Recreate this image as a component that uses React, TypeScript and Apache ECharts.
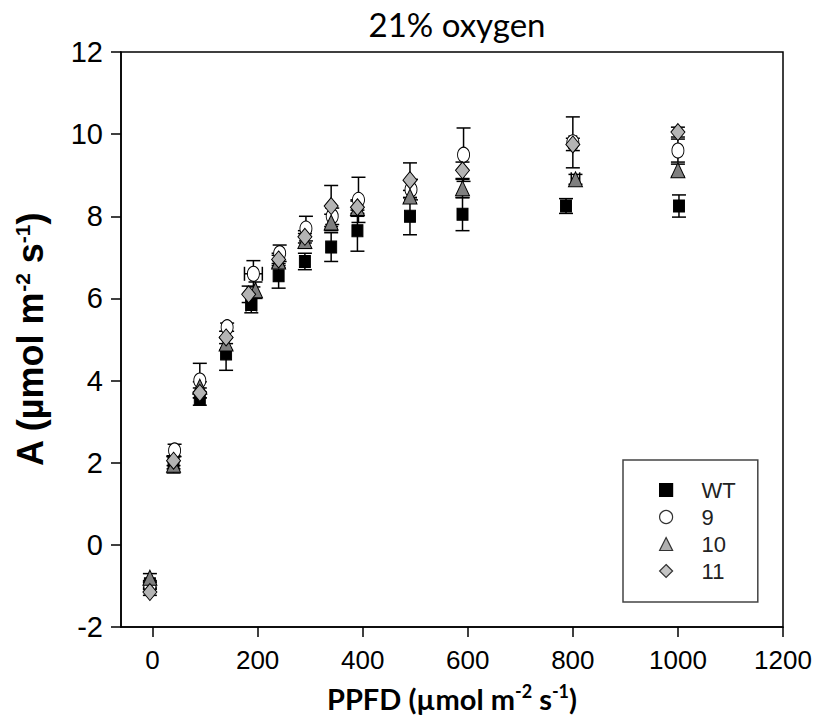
import React, { useEffect, useRef } from "react";
import * as echarts from "echarts";

const SERIES_NAMES = ["WT", "9", "10", "11"];

const WT_X = [-5, 40, 90, 140, 188, 240, 290, 340, 390, 490, 590, 787, 1002];
const WT_Y = [-0.95, 2.0, 3.55, 4.65, 5.85, 6.55, 6.9, 7.25, 7.65, 8.0, 8.05, 8.25, 8.25];
const WT_E = [0.08, 0.15, 0.15, 0.4, 0.2, 0.3, 0.2, 0.35, 0.5, 0.45, 0.4, 0.18, 0.27];
const WT_XE = [0, 0, 0, 0, 10, 0, 0, 0, 0, 0, 0, 0, 0];

const L9_X = [-5, 42, 90, 142, 192, 242, 292, 342, 392, 492, 592, 800, 1000];
const L9_Y = [-1.0, 2.3, 4.0, 5.3, 6.6, 7.1, 7.7, 8.0, 8.4, 8.65, 9.5, 9.8, 9.6];
const L9_E = [0.08, 0.15, 0.42, 0.1, 0.32, 0.2, 0.3, 0.2, 0.55, 0.25, 0.65, 0.62, 0.28];
const L9_XE = [0, 0, 0, 0, 17, 0, 0, 0, 0, 0, 0, 7, 0];

const L10_X = [-5, 40, 90, 140, 196, 240, 290, 340, 390, 490, 590, 805, 1000];
const L10_Y = [-0.8, 1.95, 3.85, 4.9, 6.2, 6.9, 7.4, 7.85, 8.2, 8.48, 8.68, 8.9, 9.12];
const L10_E = [0.1, 0.2, 0.12, 0.15, 0.2, 0.15, 0.18, 0.2, 0.2, 0.15, 0.22, 0.12, 0.15];
const L10_XE = [0, 0, 0, 0, 0, 0, 0, 0, 0, 0, 0, 8, 0];

const L11_X = [-5, 40, 90, 140, 183, 240, 290, 340, 390, 490, 590, 800, 1000];
const L11_Y = [-1.15, 2.05, 3.7, 5.05, 6.1, 6.95, 7.5, 8.25, 8.22, 8.88, 9.12, 9.75, 10.05];
const L11_E = [0.08, 0.12, 0.12, 0.15, 0.2, 0.15, 0.15, 0.5, 0.15, 0.42, 0.2, 0.15, 0.12];
const L11_XE = [0, 0, 0, 0, 0, 0, 0, 0, 0, 0, 0, 0, 0];

const X_TICKS = [0, 200, 400, 600, 800, 1000, 1200];

const TITLE = "21% oxygen";

export default function App() {
  const ref = useRef<HTMLDivElement>(null);

  useEffect(() => {
    if (!ref.current) return;
    const chart = echarts.init(ref.current, undefined, { renderer: "svg" });

    const groups = [
      { name: SERIES_NAMES[0], x: WT_X, y: WT_Y, e: WT_E, xe: WT_XE, symbol: "rect", size: [11, 12], color: "#000000", legendColor: "#000000" },
      { name: SERIES_NAMES[1], x: L9_X, y: L9_Y, e: L9_E, xe: L9_XE, symbol: "circle", size: [12, 15], color: "#ffffff", legendColor: "#ffffff" },
      { name: SERIES_NAMES[2], x: L10_X, y: L10_Y, e: L10_E, xe: L10_XE, symbol: "triangle", size: [14, 15], color: "#7f7f7f", legendColor: "#b0b0b0" },
      { name: SERIES_NAMES[3], x: L11_X, y: L11_Y, e: L11_E, xe: L11_XE, symbol: "diamond", size: [14, 17], color: "#b4b4b4", legendColor: "#c4c4c4" },
    ];

    const series: any[] = [];
    groups.forEach((g) => {
      series.push({
        name: g.name + " error",
        type: "custom",
        silent: true,
        data: g.x.map((xv, i) => [xv, g.y[i], g.e[i], g.xe[i]]),
        encode: { x: 0, y: 1 },
        renderItem: (params: any, api: any) => {
          const x = api.value(0);
          const y = api.value(1);
          const e = api.value(2);
          const xe = api.value(3);
          const top = api.coord([x, y + e]);
          const bot = api.coord([x, y - e]);
          const hw = 7;
          const st = { stroke: "#000", lineWidth: 1.5 };
          const children: any[] = [
            { type: "line", shape: { x1: top[0], y1: top[1], x2: bot[0], y2: bot[1] }, style: st },
            { type: "line", shape: { x1: top[0] - hw, y1: top[1], x2: top[0] + hw, y2: top[1] }, style: st },
            { type: "line", shape: { x1: bot[0] - hw, y1: bot[1], x2: bot[0] + hw, y2: bot[1] }, style: st },
          ];
          if (xe > 0) {
            const l = api.coord([x - xe, y]);
            const r = api.coord([x + xe, y]);
            children.push(
              { type: "line", shape: { x1: l[0], y1: l[1], x2: r[0], y2: r[1] }, style: st },
              { type: "line", shape: { x1: l[0], y1: l[1] - hw, x2: l[0], y2: l[1] + hw }, style: st },
              { type: "line", shape: { x1: r[0], y1: r[1] - hw, x2: r[0], y2: r[1] + hw }, style: st }
            );
          }
          return { type: "group", children };
        },
      });
      series.push({
        name: g.name,
        type: "scatter",
        symbol: g.symbol,
        symbolSize: g.size,
        data: g.x.map((xv, i) => [xv, g.y[i]]),
        itemStyle: { color: g.color, borderColor: "#000", borderWidth: 1, opacity: 1 },
        emphasis: { disabled: true },
      });
    });

    const option: any = {
      animation: false,
      backgroundColor: "#ffffff",
      title: {
        text: TITLE,
        left: 452,
        top: 2,
        textAlign: "center",
        textStyle: { fontFamily: "Lato", fontSize: 33, fontWeight: "normal", color: "#000" },
      },
      legend: {
        orient: "vertical",
        left: 623,
        top: 460,
        data: groups.map((g) => ({
          name: g.name,
          icon: g.symbol,
          itemStyle: { color: g.legendColor, borderColor: g.name === "WT" ? "#000" : "#333", borderWidth: 1.2 },
        })),
        itemWidth: 13,
        itemHeight: 13,
        itemGap: 5,
        padding: [19, 22, 20, 36],
        borderColor: "#444",
        borderWidth: 1.5,
        selectedMode: false,
        textStyle: {
          fontFamily: "Liberation Sans, Arial",
          fontSize: 22,
          lineHeight: 22,
          color: "#222",
          padding: [0, 0, 0, 24],
        },
      },
      grid: {
        left: 121,
        right: 831 - 783,
        top: 52,
        bottom: 724 - 627,
        show: true,
        borderColor: "#000",
        borderWidth: 1.5,
        backgroundColor: "transparent",
      },
      xAxis: {
        type: "value",
        min: -60,
        max: 1200,
        name: "PPFD (µmol m{sup|-2} s{sup|-1})",
        nameLocation: "middle",
        nameGap: 55,
        nameTextStyle: {
          fontFamily: "Lato",
          fontWeight: "bold",
          fontSize: 29,
          color: "#000",
          rich: {
            sup: { fontFamily: "Lato", fontWeight: "bold", fontSize: 18, color: "#000", padding: [0, 0, 14, 0] },
          },
        },
        axisLine: { show: true, onZero: false, lineStyle: { color: "#000", width: 1.5 } },
        axisTick: { show: true, inside: false, length: 10, customValues: X_TICKS, lineStyle: { color: "#000", width: 1.5 } },
        axisLabel: {
          customValues: X_TICKS,
          margin: 20,
          fontFamily: "Liberation Sans, Arial",
          fontSize: 26,
          color: "#000",
          formatter: (v: number) => String(v),
        },
        splitLine: { show: false },
      },
      yAxis: {
        type: "value",
        min: -2,
        max: 12,
        interval: 2,
        name: "A (µmol m{sup|-2} s{sup|-1})",
        nameLocation: "middle",
        nameGap: 72,
        nameTextStyle: {
          fontFamily: "Liberation Sans, Arial",
          fontWeight: "bold",
          fontSize: 36,
          color: "#000",
          rich: {
            sup: { fontFamily: "Liberation Sans, Arial", fontWeight: "bold", fontSize: 21, color: "#000", padding: [0, 0, 16, 0] },
          },
        },
        axisLine: { show: true, onZero: false, lineStyle: { color: "#000", width: 1.5 } },
        axisTick: { show: true, inside: false, length: 10, lineStyle: { color: "#000", width: 1.5 } },
        axisLabel: {
          margin: 18,
          fontFamily: "Liberation Sans, Arial",
          fontSize: 29,
          color: "#000",
        },
        splitLine: { show: false },
      },
      series,
    };

    chart.setOption(option);
    return () => chart.dispose();
  }, []);

  return (
    <div
      ref={ref}
      style={{ position: "fixed", left: 0, top: 0, width: 831, height: 724, background: "#fff" }}
    />
  );
}
